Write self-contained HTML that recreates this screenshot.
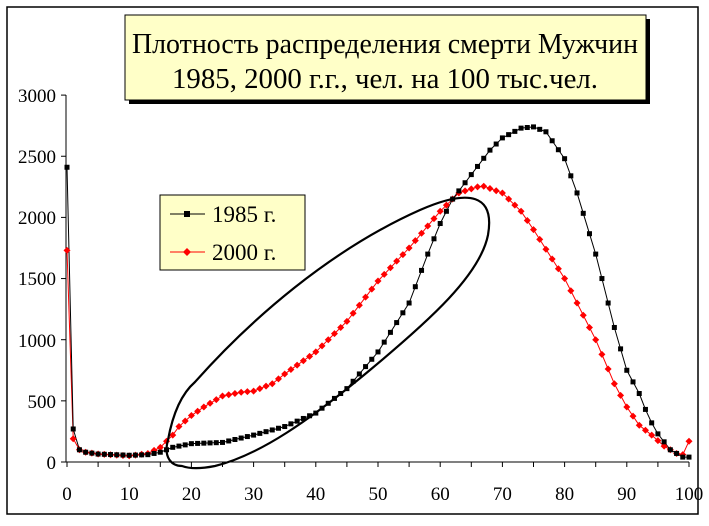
<!DOCTYPE html>
<html><head><meta charset="utf-8"><style>
body{margin:0;background:#fff;}
svg text{font-family:"Liberation Serif","Times New Roman","DejaVu Serif",serif;}
</style></head><body>
<svg id="s" width="709" height="521" xmlns="http://www.w3.org/2000/svg">
<rect x="7" y="7" width="691" height="507" fill="#fff" stroke="#000" stroke-width="1.5"/>
<rect x="129" y="19" width="521" height="85" fill="#000"/>
<rect x="125" y="15" width="521" height="85" fill="#ffffc8" stroke="#000" stroke-width="1"/>
<text x="385" y="53" font-size="28" text-anchor="middle" textLength="506" lengthAdjust="spacingAndGlyphs">Плотность распределения смерти Мужчин</text>
<text x="385" y="88" font-size="28" text-anchor="middle" textLength="426" lengthAdjust="spacingAndGlyphs">1985, 2000 г.г., чел. на 100 тыс.чел.</text>
<g font-size="19" text-anchor="end">
<text x="56" y="102">3000</text><text x="56" y="163">2500</text><text x="56" y="224">2000</text>
<text x="56" y="285">1500</text><text x="56" y="347">1000</text><text x="56" y="408">500</text><text x="56" y="469">0</text>
</g>
<g font-size="19" text-anchor="middle" id="xl"></g>
<g id="ax" stroke="#000" stroke-width="1"></g>
<g id="ser"></g>
<path d="M182,466 C172,466 163,458 168,440 C172,418 180,395 195,382 C250,320 330,250 420,210 C470,188 495,195 488,235 C480,275 430,320 370,370 C310,420 260,455 215,466 C200,469 190,469 182,466 Z" fill="none" stroke="#000" stroke-width="2.2"/>
<rect x="160" y="195" width="145" height="75" fill="#ffffc8" stroke="#000" stroke-width="1"/>
<line x1="170" y1="214" x2="205" y2="214" stroke="#000"/><rect x="184" y="211" width="6" height="6"/>
<text x="212" y="222" font-size="23">1985 г.</text>
<line x1="170" y1="252" x2="205" y2="252" stroke="#f00"/><path d="M187,248 l4,4 -4,4 -4,-4z" fill="#f00"/>
<text x="212" y="260" font-size="23">2000 г.</text>
</svg>
<script>
var X=a=>67+6.22*a, Y=v=>462-0.1223*v;
var ax=document.getElementById('ax'),xl=document.getElementById('xl'),h='';
h+='<line x1="66" y1="95" x2="66" y2="462"/><line x1="66" y1="462" x2="689" y2="462"/>';
for(var v=0;v<=3000;v+=500)h+='<line x1="61" y1="'+Y(v)+'" x2="66" y2="'+Y(v)+'"/>';
for(var a=0;a<=100;a+=5)h+='<line x1="'+X(a)+'" y1="462" x2="'+X(a)+'" y2="467"/>';
ax.innerHTML=h;var t='';
for(var a=0;a<=100;a+=10)t+='<text x="'+X(a)+'" y="500">'+a+'</text>';xl.innerHTML=t;
function interp(k){var r=[];for(var a=0;a<=100;a++){for(var i=0;i<k.length-1;i++){if(a>=k[i][0]&&a<=k[i+1][0]){var f=(a-k[i][0])/(k[i+1][0]-k[i][0]);r.push(k[i][1]+f*(k[i+1][1]-k[i][1]));break;}}}return r;}
var b=interp([[0,2410],[1,270],[2,100],[3,80],[5,65],[10,55],[13,60],[15,80],[16,100],[17,120],[18,130],[20,150],[25,160],[30,220],[35,290],[40,400],[45,600],[50,900],[55,1300],[58,1700],[60,1950],[62,2150],[65,2350],[68,2550],[70,2650],[73,2730],[75,2740],[77,2700],[80,2480],[82,2200],[85,1700],[88,1100],[90,750],[92,560],[93,430],[94,320],[95,230],[97,100],[99,40],[100,40]]);
var r=interp([[0,1730],[1,190],[2,100],[3,80],[5,65],[10,50],[13,70],[15,120],[17,220],[18,290],[20,380],[22,450],[25,540],[28,570],[30,580],[33,640],[35,720],[40,900],[45,1150],[50,1480],[55,1750],[60,2050],[63,2200],[66,2250],[67,2255],[70,2200],[73,2050],[75,1900],[80,1500],[85,1000],[88,640],[90,450],[92,300],[94,220],[96,130],[98,70],[99,60],[100,170]]);
var s='',pb='',pr='';
for(var a=0;a<=100;a++){pb+=X(a)+','+Y(b[a])+' ';pr+=X(a)+','+Y(r[a])+' ';}
s+='<polyline points="'+pr+'" fill="none" stroke="#f00" stroke-width="1"/>';
s+='<polyline points="'+pb+'" fill="none" stroke="#000" stroke-width="1"/>';
for(var a=0;a<=100;a++){var x=X(a),y=Y(r[a]);s+='<path d="M'+x+','+(y-3.5)+' l3.5,3.5 -3.5,3.5 -3.5,-3.5z" fill="#f00"/>';}
for(var a=0;a<=100;a++){s+='<rect x="'+(X(a)-2.5)+'" y="'+(Y(b[a])-2.5)+'" width="5" height="5" fill="#000"/>';}
document.getElementById('ser').innerHTML=s;
</script>
</body></html>
